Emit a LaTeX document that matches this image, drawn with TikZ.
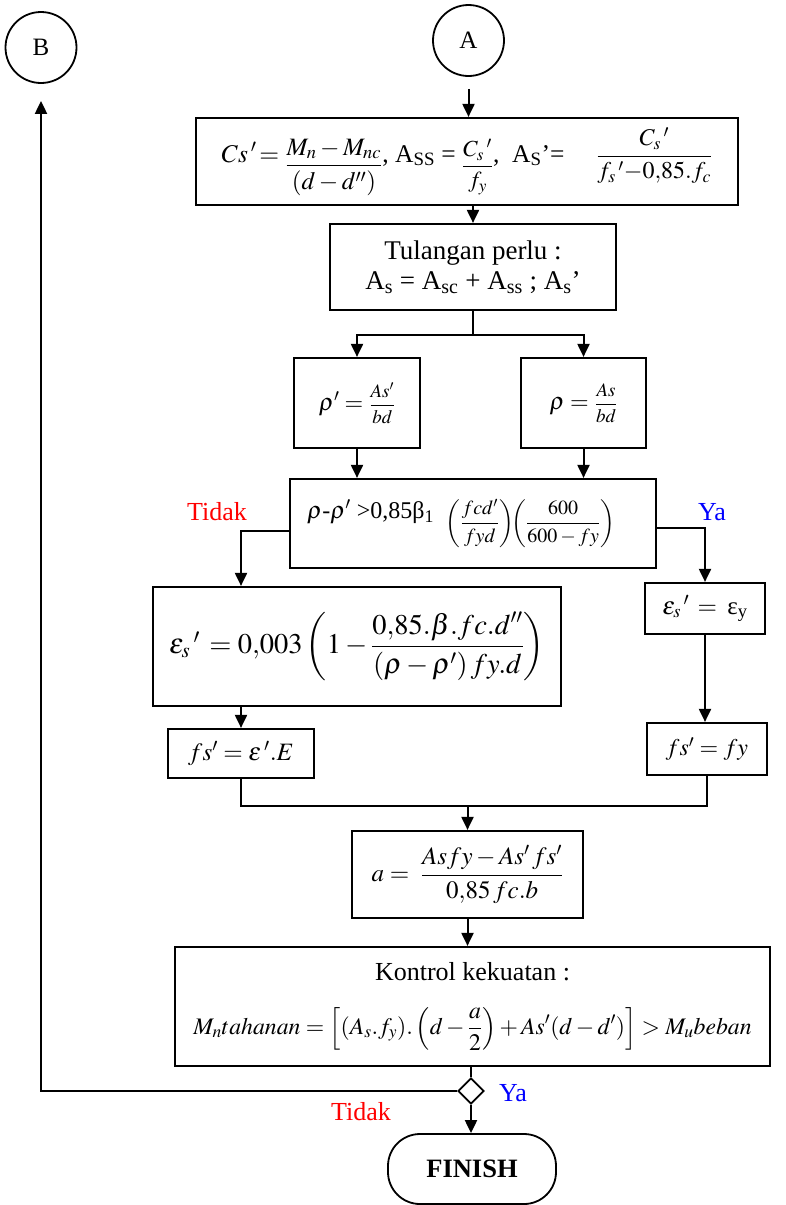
\documentclass[tikz,border=0pt]{standalone}
\usepackage{amsmath}
\usepackage{mathptmx}
\usepackage{fontspec}
\setmainfont{Liberation Serif}
\usetikzlibrary{positioning,calc,arrows.meta,shapes.geometric}
\definecolor{LineBlack}{HTML}{000000}
\definecolor{NoRed}{HTML}{FF0000}
\definecolor{YesBlue}{HTML}{0000FF}
\tikzset{
  bx/.style={draw=LineBlack,line width=2.2pt,inner sep=0pt,align=center,
    font=\fontsize{24}{29}\selectfont},
  term/.style={draw=LineBlack,circle,line width=1.8pt,minimum size=71pt,
    font=\fontsize{25}{28}\selectfont},
  flow/.style={-{Triangle[length=13pt,width=12pt]},draw=LineBlack,line width=2pt},
  ln/.style={draw=LineBlack,line width=2pt},
  tdk/.style={font=\fontsize{26}{30}\selectfont,text=NoRed},
  ya/.style={font=\fontsize{26}{30}\selectfont,text=YesBlue},
}
\newcommand{\sx}[1]{\textsubscript{#1}}
\newcommand{\fsm}[2]{\mbox{\fontsize{#1}{#1}\selectfont$\displaystyle#2$}}

\begin{document}
\begin{tikzpicture}[x=1pt,y=-1pt]
\useasboundingbox (0,0) rectangle (785,1205);
\clip (0,0) rectangle (785,1205);
\node[term] (A) at (468.5,40.5) {A};
\node[term] (B) at (41,47.5) {B};

\node[bx,minimum width=542,minimum height=87,font=\fontsize{25.5}{29}\selectfont]
  (cs) at (467,161.5)
  {$Cs\,'\!=$ \raisebox{-10pt}{\fsm{25}{\frac{M_n-M_{nc}}{(d-d'')}}}, A\sx{SS} =
   \raisebox{-10pt}{\fsm{23}{\frac{C_s\,'}{f_y}}}, \ A\sx{S}’= \quad
   \fsm{24}{\frac{C_s\,'}{f_s\,'{-}0{,}85.f_c}}};
\node[bx,minimum width=286,minimum height=86,font=\fontsize{27}{30}\selectfont]
  (tp) at (473,267)
  {Tulangan perlu :\\A\sx{s} = A\sx{sc} + A\sx{ss} ; A\sx{s}’};
\node[bx,minimum width=126,minimum height=90] (rhp) at (357,403)
  {$\rho' = $ \fsm{19}{\frac{As'}{bd}}};
\node[bx,minimum width=125,minimum height=90] (rh) at (583.5,403)
  {$\rho = $ \fsm{19}{\frac{As}{bd}}};
\node[bx,minimum width=366,minimum height=89] (cnd) at (473,523.5)
  {\raisebox{10pt}{$\rho$-$\rho'$ >0,85β\sx{1}} \
   \fsm{20}{\left(\frac{fcd'}{fyd}\right)\!\!\left(\frac{600}{600-fy}\right)}\hspace*{24pt}};
\node[bx,minimum width=408,minimum height=119,font=\fontsize{28.5}{34}\selectfont]
  (eps) at (357,646.5)
  {$\varepsilon_s\,{}'\,=0{,}003\left(1-\dfrac{0{,}85.\beta.fc.d''}{(\rho-\rho')\,fy.d}\right)$};
\node[bx,minimum width=146,minimum height=49,font=\fontsize{25}{29}\selectfont]
  (fse) at (241,753.5) {$fs'=\varepsilon\,'.E$};
\node[bx,minimum width=120,minimum height=51,font=\fontsize{25}{29}\selectfont]
  (epy) at (705,608.5) {$\varepsilon_s\,{}'\,=$ \,ε\sx{y}};
\node[bx,minimum width=120,minimum height=52,font=\fontsize{24}{29}\selectfont]
  (fsy) at (707,749) {$fs'=fy$};
\node[bx,minimum width=231,minimum height=87,font=\fontsize{25}{29}\selectfont]
  (abx) at (467.5,874.5) {$a=\ \dfrac{Asfy-As'\,fs'}{0{,}85\,fc.b}$};
\node[bx,minimum width=595,minimum height=119,font=\fontsize{26}{28}\selectfont]
  (kon) at (472.5,1006.5)
  {Kontrol kekuatan :\\[26pt]
   \fsm{23.7}{M_n tahanan=\left[(A_s.f_y).\left(d-\frac{a}{2}\right)+As'(d-d')\right]>M_u beban}};
\node[draw=LineBlack,diamond,line width=1.8pt,minimum size=26,inner sep=0pt] (dia) at (471,1091) {};
\node[draw=LineBlack,line width=1.8pt,rounded corners=32pt,minimum width=168,
  minimum height=70,font=\fontsize{26.5}{28}\selectfont\bfseries] (fin) at (472,1169) {FINISH};

\node[tdk] (t1) at (217,512) {Tidak};
\node[ya] (y1) at (712,512) {Ya};
\node[ya] (y2) at (513,1093) {Ya};
\node[tdk] (t2) at (361,1112) {Tidak};

\draw[flow,shorten <=12pt] (A.south) -- (A.south |- cs.north);
\draw[flow] (tp.north |- cs.south) -- (tp.north);
\draw[ln] (tp.south) -- ++(0,24) coordinate (spl);
\draw[flow] (spl) -| (rhp.north);
\draw[flow] (spl) -| (rh.north);
\draw[flow] (rhp.south) -- (rhp.south |- cnd.north);
\draw[flow] (rh.south) -- (rh.south |- cnd.north);
\draw[flow] ([yshift=-7pt]cnd.west) -| (eps.north -| fse.north);
\draw[flow] ([yshift=-4pt]cnd.east) -| (epy.north);
\draw[flow] (fse.north |- eps.south) -- (fse.north);
\draw[flow] (epy.south) -- (epy.south |- fsy.north);
\draw[ln] (fse.south) -- ++(0,27) coordinate (mrg) -| (fsy.south);
\draw[flow] (mrg -| abx.north) -- (abx.north);
\draw[flow] (abx.south) -- (abx.south |- kon.north);
\draw[ln] (dia.north |- kon.south) -- (dia.north);
\draw[flow,shorten >=17pt] (dia.west) -| (B.south);
\draw[flow] (dia.south) -- (dia.south |- fin.north);
\end{tikzpicture}
\end{document}
